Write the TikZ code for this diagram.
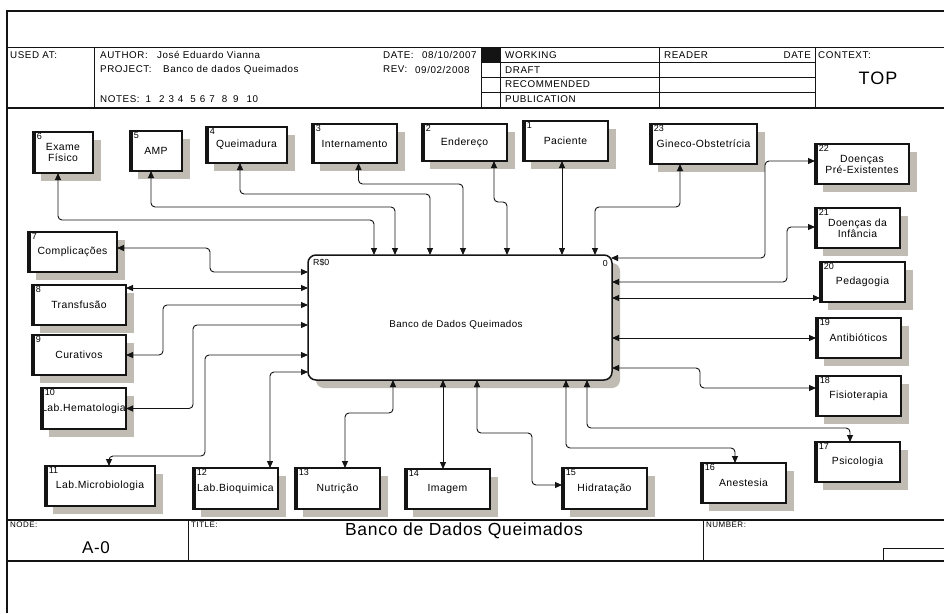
\documentclass[tikz,border=0pt]{standalone}
\usepackage{fontspec}
\setmainfont{Liberation Sans}
\newfontfamily\lsans[LetterSpace=4]{Liberation Sans}
\newfontfamily\hsans[LetterSpace=6]{Liberation Sans}
\newfontfamily\tsans[LetterSpace=4]{Liberation Sans}
\newfontfamily\nsans{Liberation Sans}
\usetikzlibrary{arrows.meta,shadows}
\definecolor{shadowc}{RGB}{192,188,180}
\definecolor{ink}{RGB}{20,20,20}

\begin{document}
\begin{tikzpicture}[x=1pt,y=-1pt,
  idef/.style={draw=ink, line width=1.2pt, fill=white, inner sep=0pt, outer sep=0pt,
    align=center, font=\lsans\fontsize{10.4pt}{11pt}\selectfont,
    drop shadow={shadow xshift=8pt, shadow yshift=-8pt, fill=shadowc, opacity=1}},
  bx/.style 2 args={idef, minimum width=#1pt, minimum height=#2pt},
  num/.style={anchor=north west, inner sep=0pt, outer sep=0pt, xshift=3.8pt, yshift=-1.4pt,
    font=\nsans\fontsize{9pt}{10pt}\selectfont},
  mainbox/.style={draw=ink, line width=1.5pt, fill=white, rounded corners=8pt,
    inner sep=0pt, outer sep=0pt,
    drop shadow={shadow xshift=8pt, shadow yshift=-8pt, fill=shadowc, opacity=1}},
  conn/.style={draw=ink, line width=0.9pt, rounded corners=4pt,
    {Triangle[length=7pt,width=6pt]}-{Triangle[length=7pt,width=6pt]}},
  htext/.style={anchor=west, inner sep=0pt, font=\hsans\fontsize{9.8pt}{11pt}\selectfont},
  flabel/.style={anchor=west, inner sep=0pt, font=\hsans\fontsize{8pt}{9pt}\selectfont},
  frame/.style={draw=ink, line width=1pt}
]
\useasboundingbox (0,0) rectangle (944,613);
\fill[white] (0,0) rectangle (944,613);

% ---------- form frame ----------
\draw[ink, line width=1.8pt] (7,613) -- (7,11) -- (944,11);
\draw[frame] (7,47) -- (944,47);
\draw[frame, line width=1.3pt] (7,108) -- (944,108);
\foreach \xx in {94,481,500,659,815} \draw[frame] (\xx,47) -- (\xx,108);
\foreach \yy in {62,77,92} \draw[frame] (481,\yy) -- (815,\yy);
\fill[ink] (481,47) rectangle (500,62);

% footer
\draw[frame, line width=1.3pt] (7,520) -- (944,520);
\draw[frame, line width=1.3pt] (7,561) -- (944,561);
\draw[frame] (188,520) -- (188,561);
\draw[frame] (703,520) -- (703,561);
\draw[frame] (883,561) -- (883,548) -- (944,548);

% ---------- header texts ----------
\node[htext] (usedat) at (10,55) {USED AT:};
\node[htext] (author) at (100,55) {AUTHOR:};
\node[htext] (authorv) at (157,55) {José Eduardo Vianna};
\node[htext] (project) at (100,69.5) {PROJECT:};
\node[htext] (projectv) at (163,69.5) {Banco de dados Queimados};
\node[htext] (notes) at (100,99) {NOTES:\hspace{6pt}1\hspace{8pt}2\hspace{4pt}3\hspace{4pt}4\hspace{7pt}5\hspace{4pt}6\hspace{4pt}7\hspace{7pt}8\hspace{6pt}9\hspace{8pt}10};
\node[htext] (date) at (383,55) {DATE:};
\node[htext] (datev) at (422,55) {08/10/2007};
\node[htext] (rev) at (383,69.5) {REV:};
\node[htext] (revv) at (415,69.5) {09/02/2008};
\node[htext] (working) at (505,55) {WORKING};
\node[htext] (draft) at (505,70) {DRAFT};
\node[htext] (recom) at (505,84.5) {RECOMMENDED};
\node[htext] (public) at (505,99.5) {PUBLICATION};
\node[htext] (reader) at (664,55) {READER};
\node[htext, anchor=east] (rdate) at (811,55) {DATE};
\node[htext] (context) at (818,55) {CONTEXT:};
\node[inner sep=0pt, font=\hsans\fontsize{18pt}{20pt}\selectfont] (top) at (878,78.5) {TOP};

% ---------- footer texts ----------
\node[flabel] (nodelbl) at (10,525) {NODE:};
\node[flabel] (titlelbl) at (191,525) {TITLE:};
\node[flabel] (numberlbl) at (706,525) {NUMBER:};
\node[inner sep=0pt, font=\tsans\fontsize{17pt}{19pt}\selectfont] (nodeval) at (96,548) {A-0};
\node[inner sep=0pt, font=\tsans\fontsize{17.5pt}{19pt}\selectfont] (titleval) at (464,530.5) {Banco de Dados Queimados};

% ---------- main activity ----------
\node[mainbox, minimum width=304pt, minimum height=125pt] (m) at (460,317.5) {};
\node[inner sep=0pt, font=\lsans\fontsize{9.8pt}{11pt}\selectfont] (mt) at (456,325) {Banco de Dados Queimados};
\node[anchor=west, inner sep=0pt, font=\nsans\fontsize{8.8pt}{9pt}\selectfont] (mr) at (313,263) {R\$0};
\node[anchor=east, inner sep=0pt, font=\nsans\fontsize{8.8pt}{9pt}\selectfont] (mz) at (608,263) {0};

% ---------- surrounding boxes ----------
\node[bx={85}{40}, label={[num,name=n1]north west:1}] (b1) at (565.5,141) {Paciente};
\node[bx={85}{37}, label={[num,name=n2]north west:2}] (b2) at (464.5,142.5) {Endereço};
\node[bx={85}{39}, label={[num,name=n3]north west:3}] (b3) at (354.5,143.5) {Internamento};
\node[bx={81}{36}, label={[num,name=n4]north west:4}] (b4) at (246.5,145) {Queimadura};
\node[bx={52}{40}, label={[num,name=n5]north west:5}] (b5) at (156,151) {AMP};
\node[bx={60}{41}, label={[num,name=n6]north west:6}] (b6) at (63,152.5) {Exame\\Físico};
\node[bx={89}{40}, label={[num,name=n7]north west:7}] (b7) at (72.5,252) {Complicações};
\node[bx={94}{40}, label={[num,name=n8]north west:8}] (b8) at (79,305) {Transfusão};
\node[bx={94}{40}, label={[num,name=n9]north west:9}] (b9) at (79,355) {Curativos};
\node[bx={85}{41}, label={[num,name=n10]north west:10}] (b10) at (83.5,408.5) {Lab.Hematologia};
\node[bx={110}{40}, label={[num,name=n11]north west:11}] (b11) at (100,486) {Lab.Microbiologia};
\node[bx={85}{41}, label={[num,name=n12]north west:12}] (b12) at (235.5,488.5) {Lab.Bioquimica};
\node[bx={85}{41}, label={[num,name=n13]north west:13}] (b13) at (337.5,488.5) {Nutrição};
\node[bx={85}{40}, label={[num,name=n14]north west:14}] (b14) at (447.5,489) {Imagem};
\node[bx={85}{41}, label={[num,name=n15]north west:15}] (b15) at (604.5,488.5) {Hidratação};
\node[bx={85}{40}, label={[num,name=n16]north west:16}] (b16) at (743.5,483) {Anestesia};
\node[bx={85}{40}, label={[num,name=n17]north west:17}] (b17) at (857.5,462) {Psicologia};
\node[bx={85}{40}, label={[num,name=n18]north west:18}] (b18) at (858.5,396) {Fisioterapia};
\node[bx={85}{40}, label={[num,name=n19]north west:19}] (b19) at (858.5,338) {Antibióticos};
\node[bx={85}{40}, label={[num,name=n20]north west:20}] (b20) at (862.5,282) {Pedagogia};
\node[bx={85}{40}, label={[num,name=n21]north west:21}] (b21) at (857.5,228) {Doenças da\\Infância};
\node[bx={94}{40}, label={[num,name=n22]north west:22}] (b22) at (862,164) {Doenças\\Pré-Existentes};
\node[bx={107}{40}, label={[num,name=n23]north west:23}] (b23) at (703.5,144) {Gineco-Obstetrícia};

% heavy left and top edges of the boxes
\foreach \i in {1,...,23} {
  \draw[ink, line width=3.4pt] ([xshift=1.2pt]b\i.north west) -- ([xshift=1.2pt]b\i.south west);
  \draw[ink, line width=2pt] ([yshift=-0.4pt]b\i.north west) -- ([yshift=-0.4pt]b\i.north east);
}

% ---------- connectors: top side ----------
\draw[conn] ([shift={(-5,0)}]b6.south) -- ++(0,47) -| ([shift={(66,0)}]m.north west);
\draw[conn] ([shift={(-5,0)}]b5.south) -- ++(0,36) -| ([shift={(87,0)}]m.north west);
\draw[conn] ([shift={(-6.5,0)}]b4.south) -- ++(0,31) -| ([shift={(122,0)}]m.north west);
\draw[conn] ([shift={(4,0)}]b3.south) -- ++(0,21) -| ([shift={(155,0)}]m.north west);
\draw[conn] ([shift={(29.5,0)}]b2.south) -- ++(0,41) -| ([shift={(199,0)}]m.north west);
\draw[conn] ([shift={(-3.5,0)}]b1.south) -- ([shift={(254,0)}]m.north west);
\draw[conn] ([shift={(-23.5,0)}]b23.south) -- ++(0,43) -| ([shift={(287,0)}]m.north west);

% ---------- connectors: right side ----------
\draw[conn] ([shift={(0,-3)}]b22.west) -- ++(-50,0) |- ([shift={(-1,3)}]m.north east);
\draw[conn] ([shift={(0,-1)}]b21.west) -- ++(-28,0) |- ([shift={(0,27)}]m.north east);
\draw[conn] ([shift={(0,16)}]b20.west) -- ([shift={(0,43)}]m.north east);
\draw[conn] (b19.west) -- ([shift={(0,83)}]m.north east);
\draw[conn] ([shift={(0,-8)}]b18.west) -- ++(-116,0) |- ([shift={(0,113)}]m.north east);

% ---------- connectors: bottom side ----------
\draw[conn] ([shift={(-7.5,0)}]b17.north) -- ++(0,-14) -| ([shift={(279,0)}]m.south west);
\draw[conn] ([shift={(-8.5,0)}]b16.north) -- ++(0,-15) -| ([shift={(258,0)}]m.south west);
\draw[conn] ([shift={(0,-3.5)}]b15.west) -- ++(-30,0) -- ++(0,-52) -| ([shift={(169,0)}]m.south west);
\draw[conn] ([shift={(-4.5,0)}]b14.north) -- ([shift={(135,0)}]m.south west);
\draw[conn] ([shift={(7.5,0)}]b13.north) -- ++(0,-55) -| ([shift={(85,0)}]m.south west);

% ---------- connectors: left side ----------
\draw[conn] ([shift={(34.5,0)}]b12.north) |- ([shift={(0,117)}]m.north west);
\draw[conn] ([shift={(9,0)}]b11.north) -- ++(0,-10) -- ++(96,0) |- ([shift={(0,100)}]m.north west);
\draw[conn] (b10.east) -- ++(67,0) |- ([shift={(0,70)}]m.north west);
\draw[conn] (b9.east) -- ++(37,0) |- ([shift={(0,50)}]m.north west);
\draw[conn] ([shift={(0,-17)}]b8.east) -- ([shift={(0,33)}]m.north west);
\draw[conn] ([shift={(0,-4)}]b7.east) -- ++(93,0) |- ([shift={(0,17)}]m.north west);
\end{tikzpicture}
\end{document}
